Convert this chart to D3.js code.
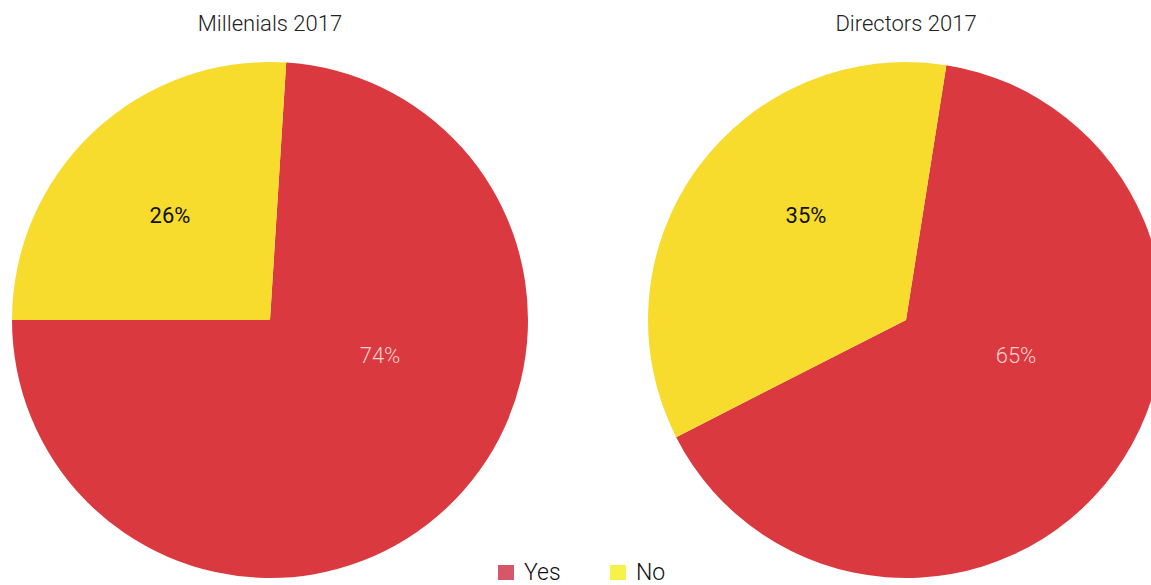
<!DOCTYPE html>
<html><head><meta charset="utf-8">
<script src="https://cdn.jsdelivr.net/npm/d3@7"></script>
<style>body{margin:0;background:#fff}</style>
</head><body>
<svg id="c" width="1151" height="585"></svg>
<script>
const categories = ["Yes", "No"];
const titles = ["Millenials 2017", "Directors 2017"];
const millenials = [74, 26];
const directors = [65, 35];
const pieColors = ["#da3a3f", "#f7dc2e"];
const legendColors = ["#d8566a", "#f6f24a"];

const svg = d3.select("#c");
const font = "Roboto, 'Open Sans', sans-serif";

const charts = [
  {title: titles[0], values: millenials, cx: 270, cy: 320, r: 258, start: 0.01},
  {title: titles[1], values: directors, cx: 906, cy: 320, r: 258, start: 0.025}
];
const labelOffset = {Yes: [110, 35], No: [-100, -105]};

const color = d3.scaleOrdinal().domain(categories).range(pieColors);
const lcolor = d3.scaleOrdinal().domain(categories).range(legendColors);

charts.forEach(ch => {
  const data = categories.map((c, i) => ({cat: c, v: ch.values[i]}));
  const pie = d3.pie().value(d => d.v).sort(null)
    .startAngle(ch.start * 2 * Math.PI).endAngle((ch.start + 1) * 2 * Math.PI);
  const arcs = pie(data);
  const arc = d3.arc().innerRadius(0).outerRadius(ch.r);
  const g = svg.append("g").attr("transform", `translate(${ch.cx},${ch.cy})`);
  g.selectAll("path").data(arcs).join("path")
    .attr("d", arc).attr("fill", d => color(d.data.cat));
  g.selectAll("text").data(arcs).join("text")
    .attr("transform", d => `translate(${labelOffset[d.data.cat][0]},${labelOffset[d.data.cat][1]})`)
    .attr("text-anchor", "middle").attr("dy", "0.35em")
    .attr("font-family", font).attr("font-size", 22)
    .attr("font-weight", d => d.data.cat === "No" ? 400 : 300)
    .attr("fill", d => d.data.cat === "No" ? "#111" : "#f6d0d0")
    .text(d => d.data.v + "%");
  svg.append("text").attr("x", ch.cx).attr("y", 31)
    .attr("text-anchor", "middle").attr("font-family", font)
    .attr("font-size", 22).attr("font-weight", 300).attr("fill", "#222")
    .text(ch.title);
});

const legend = svg.append("g");
const lx = d3.scalePoint().domain(categories).range([498, 610]);
categories.forEach(c => {
  const gx = lx(c);
  legend.append("rect").attr("x", gx).attr("y", 565).attr("width", 16).attr("height", 15)
    .attr("fill", lcolor(c));
  legend.append("text").attr("x", gx + 26).attr("y", 580)
    .attr("font-family", font).attr("font-size", 23).attr("font-weight", 300)
    .attr("fill", "#111").text(c);
});
</script>
</body></html>
